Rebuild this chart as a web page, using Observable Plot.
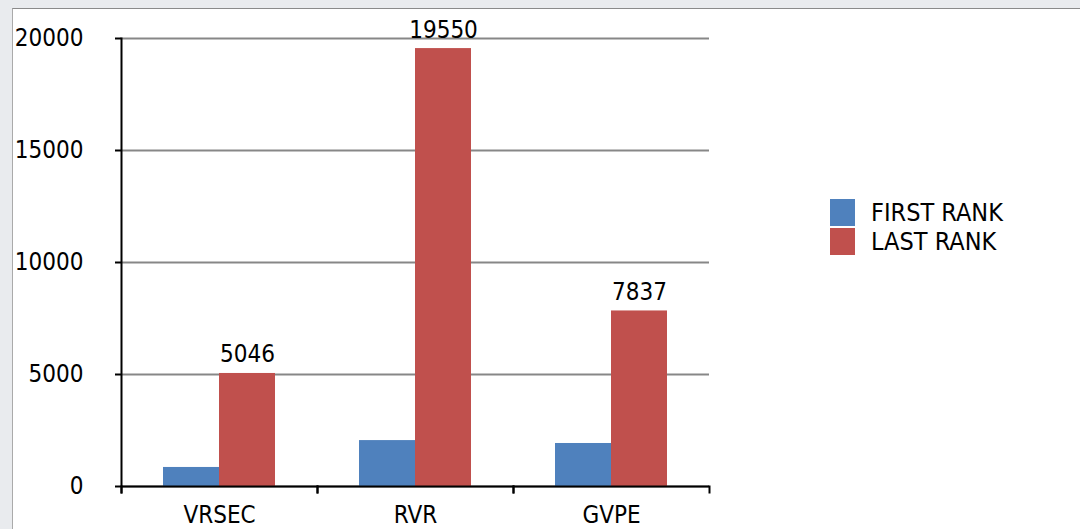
<!DOCTYPE html>
<html><head><meta charset="utf-8">
<script src="https://cdn.jsdelivr.net/npm/d3@7"></script>
<script src="https://cdn.jsdelivr.net/npm/@observablehq/plot@0.6"></script>
<style>
html,body{margin:0;padding:0;width:1080px;height:529px;overflow:hidden;background:#e9ebee;font-family:"DejaVu Sans Condensed","DejaVu Sans",sans-serif;font-stretch:condensed;}
#panel{position:absolute;left:12px;top:8px;width:1100px;height:600px;background:#fff;border-top:1px solid #8a8a8a;border-left:1px solid #aaa;}
#chart{position:absolute;left:0;top:0;}
#chart svg{font-stretch:condensed;}
#legend{position:absolute;left:830px;top:199px;font-size:25px;color:#000;}
#legend .row{display:flex;align-items:center;height:27px;margin-bottom:2px;}
#legend .sw{display:inline-block;width:25px;height:27px;margin-right:16px;}
</style></head>
<body><div id="panel"></div><div id="chart"></div><div id="legend"></div>
<script>
const categories = ["VRSEC", "RVR", "GVPE"];
const series = ["FIRST RANK", "LAST RANK"];
const firstRank = [850, 2050, 1920];
const lastRank = [5046, 19550, 7837];
const colors = ["#4F81BD", "#C0504D"];
const yTicks = [0, 5000, 10000, 15000, 20000];

const data = categories.flatMap((c, i) => [
  {category: c, series: series[0], value: firstRank[i]},
  {category: c, series: series[1], value: lastRank[i]}
]);

const font = "DejaVu Sans Condensed, DejaVu Sans, sans-serif";
const plot = Plot.plot({
  width: 1080, height: 529,
  marginLeft: 121, marginRight: 371, marginTop: 38, marginBottom: 43,
  style: {background: "transparent", fontFamily: font, fontSize: "24px", color: "#000"},
  fx: {domain: categories, padding: 0, label: null},
  x: {domain: series, paddingInner: 0, paddingOuter: 0.72, axis: null},
  y: {domain: [0, 20000], label: null},
  color: {domain: series, range: colors},
  marks: [
    Plot.gridY(yTicks, {stroke: "#878787", strokeOpacity: 1, strokeWidth: 2}),
    Plot.barY(data, {fx: "category", x: "series", y: "value", fill: "series"}),
    Plot.ruleY([0], {stroke: "#000", strokeWidth: 2}),
    Plot.frame({anchor: "left", facetAnchor: "left", stroke: "#000", strokeWidth: 2, insetBottom: -6}),
    Plot.frame({anchor: "left", stroke: "#000", strokeWidth: 2, insetTop: 448, insetBottom: -6}),
    Plot.frame({anchor: "right", stroke: "#000", strokeWidth: 2, insetTop: 448, insetBottom: -6}),
    Plot.axisY(yTicks, {tickSize: 6, tickPadding: 32, stroke: "#000", strokeWidth: 2, fontSize: 24, label: null, tickFormat: d => String(d)}),
    Plot.axisFx({anchor: "bottom", tickSize: 0, tickPadding: 19, fontSize: 24, label: null}),
    Plot.text(data.filter(d => d.series === series[1]), {
      fx: "category", x: "series", y: "value", text: d => String(d.value),
      dy: -11, lineAnchor: "bottom", fontSize: 24, fill: "#000"
    })
  ]
});
document.getElementById("chart").appendChild(plot);

const color = plot.scale("color");
const rows = d3.select("#legend").selectAll("div").data(color.domain).join("div").attr("class", "row");
rows.append("span").attr("class", "sw").style("background", (d, i) => color.range[i]);
rows.append("span").text(d => d);
</script>
</body></html>
